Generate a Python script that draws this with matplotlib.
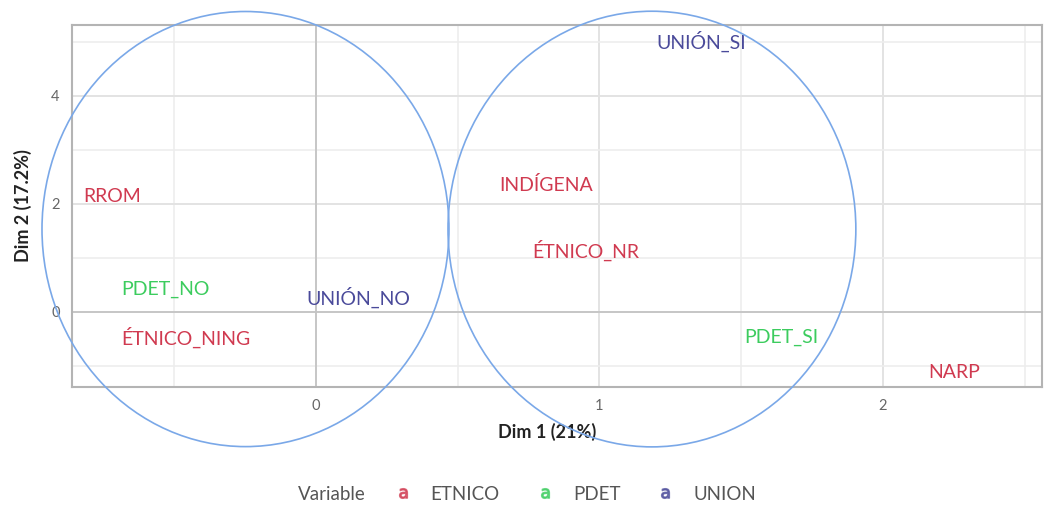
import numpy as np
import matplotlib.pyplot as plt
from matplotlib.patches import Ellipse
from matplotlib.lines import Line2D

plt.rcParams['font.family'] = ['Lato', 'DejaVu Sans']

# MCA category coordinates
labels = ["RROM", "PDET_NO", "ÉTNICO_NING", "UNIÓN_NO", "INDÍGENA",
          "ÉTNICO_NR", "UNIÓN_SI", "PDET_SI", "NARP"]
dim1 = [-0.72, -0.53, -0.46, 0.15, 0.81, 0.95, 1.36, 1.64, 2.25]
dim2 = [2.13, 0.41, -0.47, 0.27, 2.34, 1.14, 5.00, -0.47, -1.13]
variable = ["ETNICO", "PDET", "ETNICO", "UNION", "ETNICO",
            "ETNICO", "UNION", "PDET", "ETNICO"]

groups = ["ETNICO", "PDET", "UNION"]
colors = {"ETNICO": "#d03a50", "PDET": "#3ccc5e", "UNION": "#4a4a9a"}

# circles drawn over the map (centre x, centre y, width, height)
circles = [(-0.249, 1.53, 1.436, 8.06), (1.185, 1.53, 1.439, 8.07)]

fig = plt.figure(figsize=(10.44, 5.08), dpi=100)
ax = fig.add_axes([0.069, 0.2388, 0.929, 0.712])

ax.set_xlim(-0.861, 2.561)
ax.set_ylim(-1.39, 5.31)

ax.set_xticks([0, 1, 2])
ax.set_xticks([-0.5, 0.5, 1.5, 2.5], minor=True)
ax.set_yticks([0, 2, 4])
ax.set_yticks([-1, 1, 3, 5], minor=True)
ax.grid(which='major', color='#e3e3e3', linewidth=1.4)
ax.grid(which='minor', color='#ededed', linewidth=1.2)
ax.set_axisbelow(True)
ax.axhline(0, color='#c4c4c4', linewidth=1.3, zorder=1)
ax.axvline(0, color='#c4c4c4', linewidth=1.3, zorder=1)

for s in ax.spines.values():
    s.set_color('#b4b4b4')
    s.set_linewidth(1.5)

ax.tick_params(which='both', length=0, colors='#666666', labelsize=10.5, pad=9)

for lab, x, y, v in zip(labels, dim1, dim2, variable):
    ax.text(x, y, lab, color=colors[v], fontsize=14, ha='center', va='center')

for cx, cy, w, h in circles:
    ax.add_patch(Ellipse((cx, cy), w, h, fill=False, edgecolor='#7aa8e8',
                         linewidth=1.2, clip_on=False, zorder=5))

ax.set_xlabel("Dim 1 (21%)", fontsize=13, fontweight='bold', color='#222222')
ax.set_ylabel("Dim 2 (17.2%)", fontsize=13, fontweight='bold', color='#222222')
ax.xaxis.set_label_coords(0.49, -0.10)
ax.yaxis.set_label_coords(-0.041, 0.5)

handles = [Line2D([], [], linestyle='none', marker=r'$\mathsf{a}$', markersize=7,
                  color=colors[g], alpha=0.7) for g in groups]
fig.text(0.285, 0.027, "Variable", fontsize=13.5, color='#555555', va='center')
fig.legend(handles, groups, loc='center left', bbox_to_anchor=(0.3605, 0.027),
           ncol=3, frameon=False, fontsize=13.5, labelcolor='#555555',
           handletextpad=1.0, columnspacing=1.9, handlelength=1.0)

fig.savefig("out.png", dpi=100)
